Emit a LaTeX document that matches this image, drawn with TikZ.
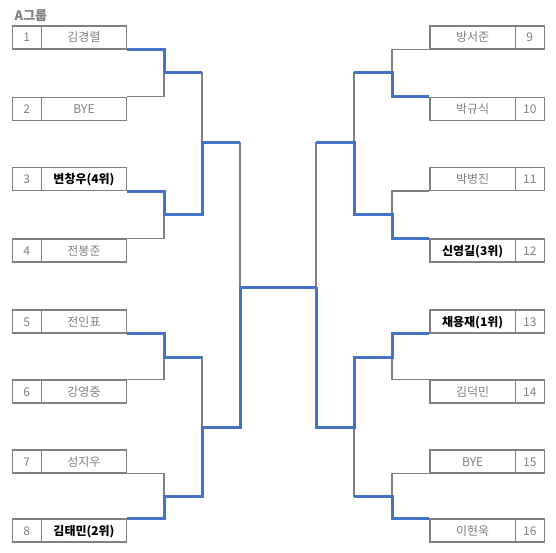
\documentclass[tikz,border=0pt]{standalone}
\usepackage{fontspec}
\setmainfont{Noto Sans CJK KR}
\definecolor{lg}{HTML}{808080}
\definecolor{wb}{HTML}{4472C4}
\begin{document}
\begin{tikzpicture}[x=1pt,y=-1pt,
  cell/.style={draw=lg, line width=1.2pt, minimum height=23pt, inner sep=0pt,
    text height=9pt, text depth=0pt, font=\fontsize{12}{14}\selectfont, text=lg},
  numcell/.style={cell, minimum width=29pt},
  namecell/.style={cell, minimum width=85.4pt},
  winner/.style={font=\fontsize{12}{14}\selectfont\bfseries, text=black},
  br/.style={draw=lg, line width=1.2pt},
  wl/.style={draw=wb, line width=3pt, line join=miter}
]
\useasboundingbox (0,0) rectangle (556,553);

\node[anchor=base west, inner sep=0pt, text=lg, font=\fontsize{13}{15}\selectfont\bfseries] (title) at (14.5,20.8) {A그룹};

% left boxes
\node[numcell] (L1n) at (26.8,37.5) {1};   \node[namecell] (L1) at (84,37.5) {김경렬};
\node[numcell] (L2n) at (26.8,109) {2};    \node[namecell] (L2) at (84,109) {BYE};
\node[numcell] (L3n) at (26.8,179) {3};    \node[namecell,winner] (L3) at (84,179) {변창우(4위)};
\node[numcell] (L4n) at (26.8,250.5) {4};  \node[namecell] (L4) at (84,250.5) {전봉준};
\node[numcell] (L5n) at (26.8,321.5) {5};  \node[namecell] (L5) at (84,321.5) {전인표};
\node[numcell] (L6n) at (26.8,391.5) {6};  \node[namecell] (L6) at (84,391.5) {강영중};
\node[numcell] (L7n) at (26.8,461.5) {7};  \node[namecell] (L7) at (84,461.5) {성지우};
\node[numcell] (L8n) at (26.8,530.5) {8};  \node[namecell,winner] (L8) at (84,530.5) {김태민(2위)};

% right boxes
\node[namecell] (R9) at (472.65,37.5) {방서준};   \node[numcell] (R9n) at (529.8,37.5) {9};
\node[namecell] (R10) at (472.65,109) {박규식};   \node[numcell] (R10n) at (529.8,109) {10};
\node[namecell] (R11) at (472.65,179) {박병진};   \node[numcell] (R11n) at (529.8,179) {11};
\node[namecell,winner] (R12) at (472.65,250.5) {신영길(3위)}; \node[numcell] (R12n) at (529.8,250.5) {12};
\node[namecell,winner] (R13) at (472.65,321.5) {채용재(1위)}; \node[numcell] (R13n) at (529.8,321.5) {13};
\node[namecell] (R14) at (472.65,391.5) {김덕민}; \node[numcell] (R14n) at (529.8,391.5) {14};
\node[namecell] (R15) at (472.65,461.5) {BYE};    \node[numcell] (R15n) at (529.8,461.5) {15};
\node[namecell] (R16) at (472.65,530.5) {이현욱}; \node[numcell] (R16n) at (529.8,530.5) {16};

% match points
\coordinate (c12) at (164,73);  \coordinate (c34) at (164,215);
\coordinate (c56) at (164,357); \coordinate (c78) at (164,496);
\coordinate (c14) at (202,143); \coordinate (c58) at (202,427);
\coordinate (cf) at (240,287);
\coordinate (e12) at (392,73);  \coordinate (e34) at (392,215);
\coordinate (e56) at (392,357); \coordinate (e78) at (392,496);
\coordinate (e14) at (354,143); \coordinate (e58) at (354,427);
\coordinate (cfR) at (316,287);

% gray bracket
\draw[br] (L1.south east) -| (c12) |- (L2.north east);
\draw[br] (L3.south east) -| (c34) |- (L4.north east);
\draw[br] (L5.south east) -| (c56) |- (L6.north east);
\draw[br] (L7.south east) -| (c78) |- (L8.north east);
\draw[br] (c12) -| (c14) |- (c34);
\draw[br] (c56) -| (c58) |- (c78);
\draw[br] (c14) -| (cf) |- (c58);
\draw[br] (cf) -- (cfR);
\draw[br] (R9.south west) -| (e12) |- (R10.north west);
\draw[br] (R11.south west) -| (e34) |- (R12.north west);
\draw[br] (R13.south west) -| (e56) |- (R14.north west);
\draw[br] (R15.south west) -| (e78) |- (R16.north west);
\draw[br] (e12) -| (e14) |- (e34);
\draw[br] (e56) -| (e58) |- (e78);
\draw[br] (e14) -| (cfR) |- (e58);

% winners
\draw[wl] (L1.south east) -| (c12) -- (c12 -| c14);
\draw[wl] (L3.south east) -| (c34) -| (c14) -- (c14 -| cf);
\draw[wl] (L5.south east) -| (c56) -- (c56 -| c58);
\draw[wl] (L8.north east) -| (c78) -| (c58) -| (cf) -- (cfR);
\draw[wl] (R10.north west) -| (e12) -- (e12 -| e14);
\draw[wl] (R12.north west) -| (e34) -| (e14) -- (e14 -| cfR);
\draw[wl] (R13.south west) -| (e56) -| (e58) -| (cfR);
\draw[wl] (R16.north west) -| (e78) -- (e78 -| e58);
\end{tikzpicture}
\end{document}
